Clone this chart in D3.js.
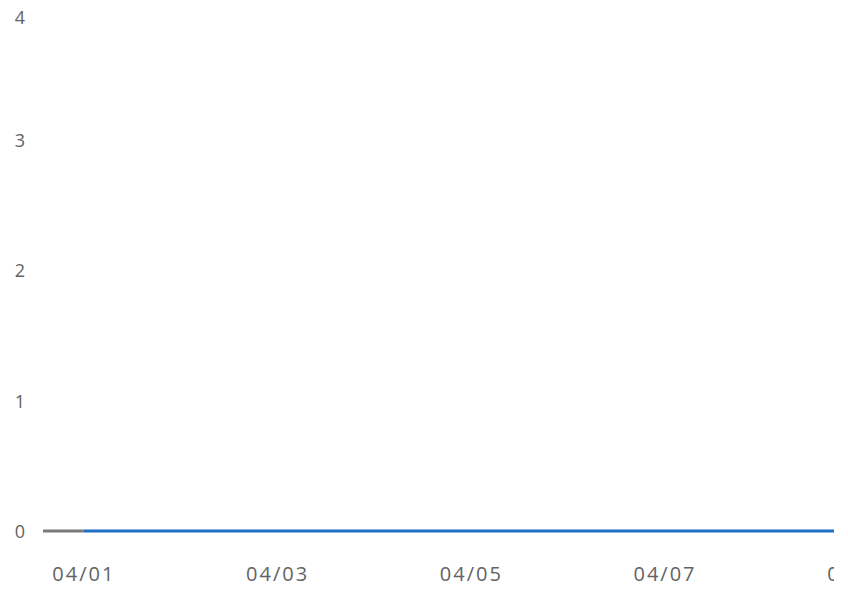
<!DOCTYPE html>
<html>
<head>
<meta charset="utf-8">
<script src="https://cdn.jsdelivr.net/npm/d3@7"></script>
<style>
  body { margin: 0; background: #fff; }
  #content { width: 848px; height: 590px; }
</style>
</head>
<body>
<div id="content"></div>
<script>
// data (all values sit on zero)
var greyDates = ["2024-03-31T14:00", "2024-04-01T00:00"]
var greyValues = [0, 0]
var blueDates = ["2024-04-01T00:00", "2024-04-02T00:00", "2024-04-03T00:00", "2024-04-04T00:00",
  "2024-04-05T00:00", "2024-04-06T00:00", "2024-04-07T00:00", "2024-04-08T00:00", "2024-04-08T18:00"]
var blueValues = [0, 0, 0, 0, 0, 0, 0, 0, 0]
var xTickDates = ["2024-04-01", "2024-04-03", "2024-04-05", "2024-04-07", "2024-04-09"]
var yTicks = [0, 1, 2, 3, 4]

svgwidth = 848
svgheight = 590
parse = d3.timeParse("%Y-%m-%dT%H:%M")
parseDay = d3.timeParse("%Y-%m-%d")
fmt = d3.timeFormat("%m/%d")
fontFam = "'Open Sans', 'Noto Sans', sans-serif"
textColor = "#636363"

var x = d3.scaleTime()
  .domain([parse(greyDates[0]), parse(blueDates[blueDates.length - 1])])
  .range([43, 834])

var y = d3.scaleLinear()
  .domain([0, 4])
  .range([531, 10])

var svg = d3.select("#content").append("svg")
  .attr("width", svgwidth)
  .attr("height", svgheight)

// the right edge of the chart cuts the last date label
svg.append("clipPath").attr("id", "plotClip")
  .append("rect").attr("x", 0).attr("y", 0).attr("width", 834).attr("height", svgheight)

// y axis labels, no line, no ticks
var yAxis = svg.append("g")
  .attr("transform", "translate(25,0)")
  .call(d3.axisLeft(y).tickValues(yTicks).tickSize(0).tickPadding(0).tickFormat(d3.format("d")))
yAxis.select(".domain").remove()
yAxis.selectAll("text")
  .attr("fill", textColor)
  .style("font-family", fontFam)
  .style("font-size", "18px")
  .attr("dy", function(d) { return d == 4 ? "0.75em" : "0.35em" })

// x axis labels
var xAxis = svg.append("g")
  .attr("clip-path", "url(#plotClip)")
  .attr("transform", "translate(0,567)")
  .call(d3.axisBottom(x).tickValues(xTickDates.map(parseDay)).tickSize(0).tickPadding(0).tickFormat(fmt))
xAxis.select(".domain").remove()
xAxis.selectAll("text")
  .attr("fill", textColor)
  .style("font-family", fontFam)
  .style("font-size", "20px")
  .style("letter-spacing", "2px")

// lines
var greyData = greyDates.map(function(d, i) { return {date: parse(d), value: greyValues[i]} })
var blueData = blueDates.map(function(d, i) { return {date: parse(d), value: blueValues[i]} })

var line = d3.line()
  .x(function(d) { return x(d.date) })
  .y(function(d) { return y(d.value) })

svg.append("path")
  .datum(greyData)
  .attr("d", line)
  .attr("fill", "none")
  .attr("stroke", "#7a7a7a")
  .attr("stroke-width", 3)

svg.append("path")
  .datum(blueData)
  .attr("d", line)
  .attr("fill", "none")
  .attr("stroke", "#1f6fc4")
  .attr("stroke-width", 3)
</script>
</body>
</html>
